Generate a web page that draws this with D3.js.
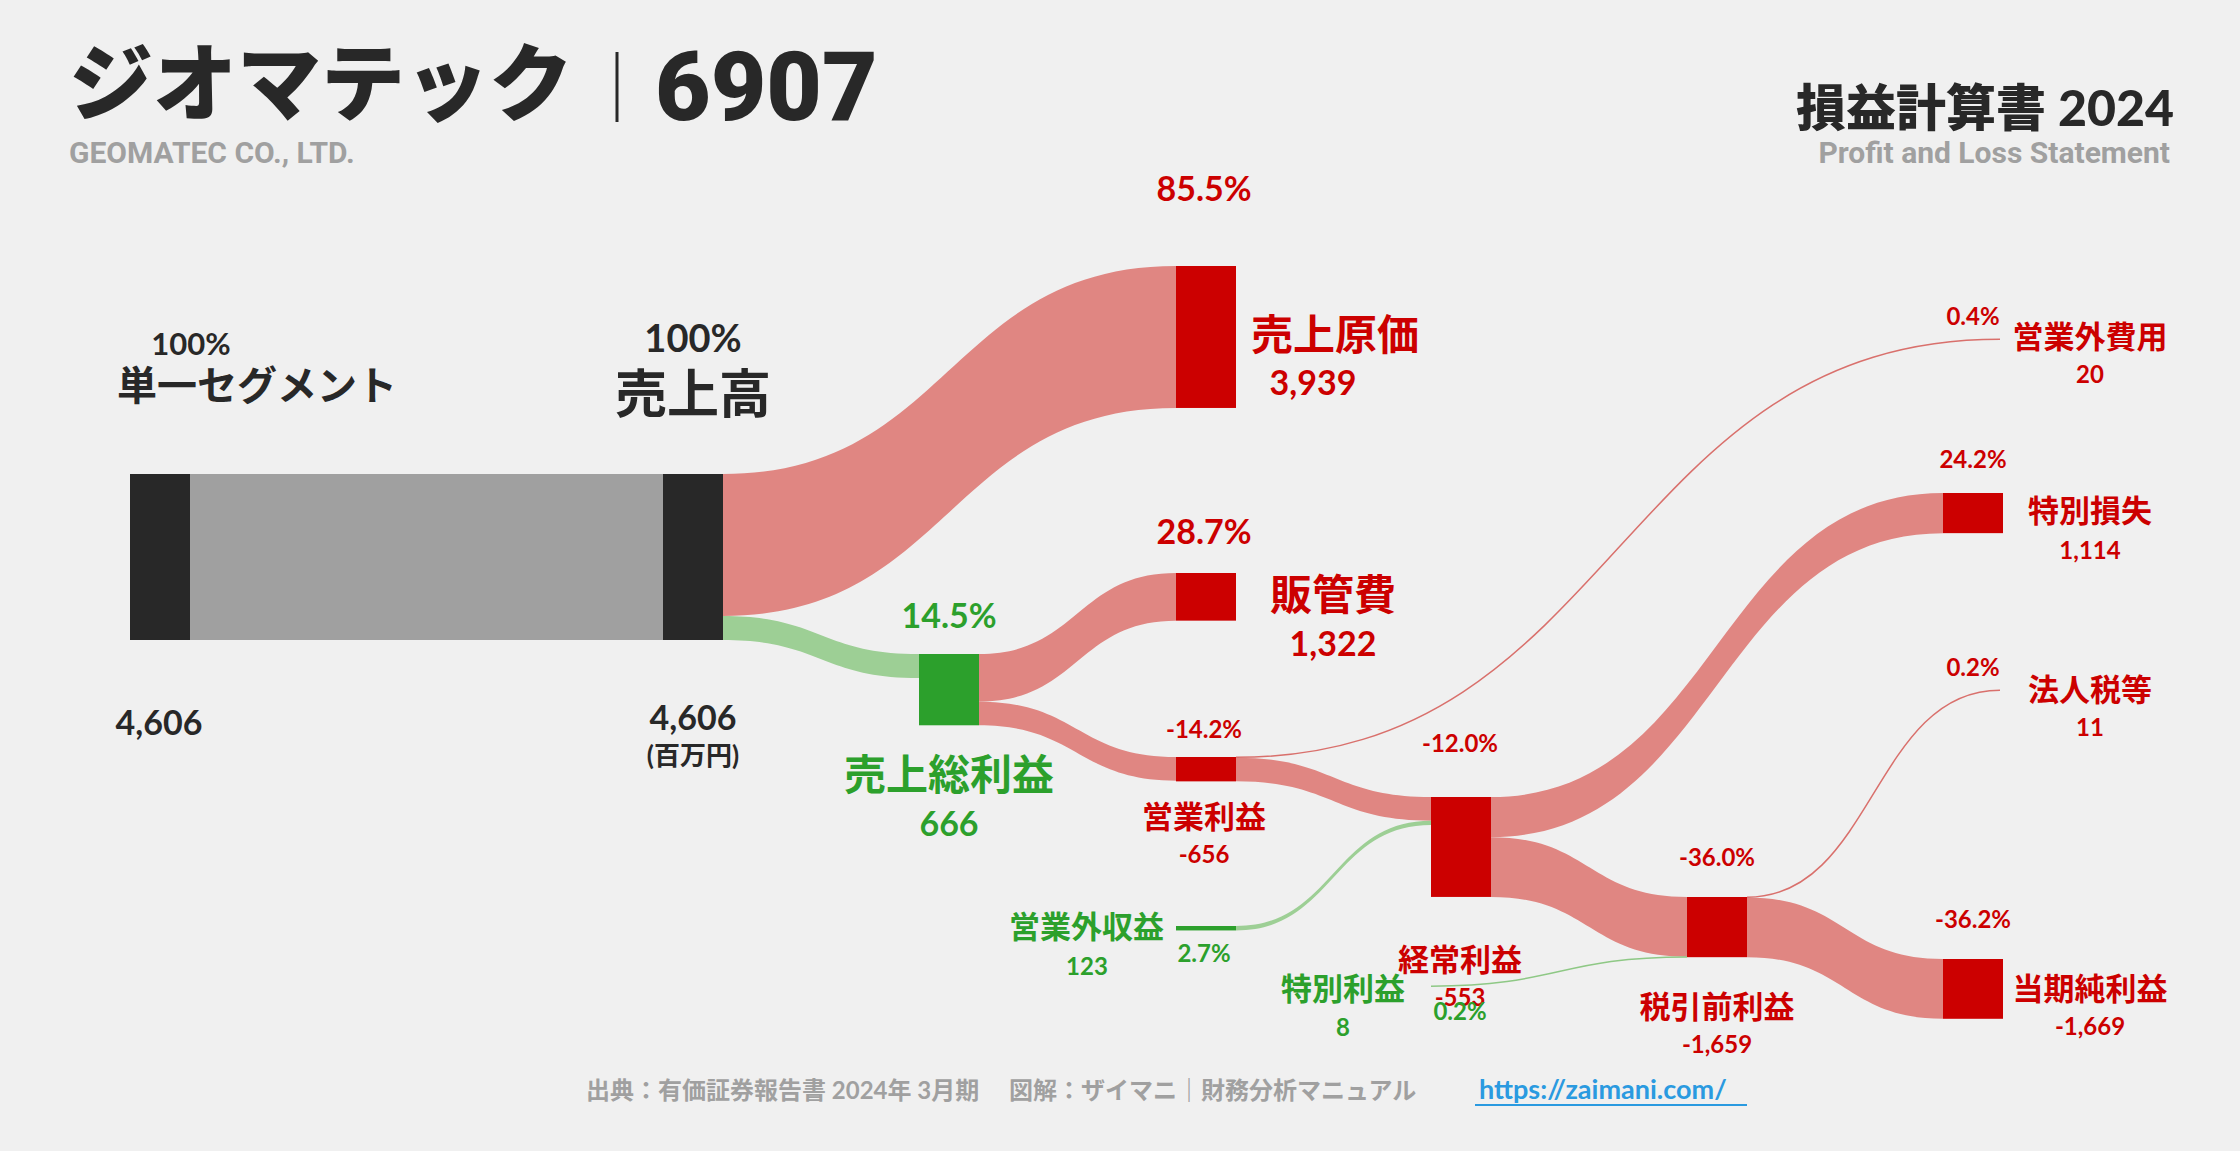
<!DOCTYPE html>
<html><head><meta charset="utf-8">
<script src="https://cdn.jsdelivr.net/npm/d3@7"></script>
<style>
body{margin:0;background:#f0f0f0;}
text{font-family:"Lato","Noto Sans CJK JP",sans-serif;font-weight:700;}
</style></head>
<body><svg id="chart" width="2240" height="1151"></svg>
<script>
// node data
var nodeIds    = ["seg","sales","cost","sga","gross","op","nonopexp","ordinary","nonoprev","specloss","pretax","specgain","tax","net"];
var nodeNames  = ["単一セグメント","売上高","売上原価","販管費","売上総利益","営業利益","営業外費用","経常利益","営業外収益","特別損失","税引前利益","特別利益","法人税等","当期純利益"];
var nodeValues = ["4,606","4,606","3,939","1,322","666","-656","20","-553","123","1,114","-1,659","8","11","-1,669"];
var nodePcts   = ["100%","100%","85.5%","28.7%","14.5%","-14.2%","0.4%","-12.0%","2.7%","24.2%","-36.0%","0.2%","0.2%","-36.2%"];
var nodeKinds  = ["base","base","cost","cost","gain","cost","cost","cost","gain","cost","cost","gain","cost","cost"];

// flows
var linkSources = ["seg","sales","sales","gross","gross","op","op","nonoprev","ordinary","ordinary","specgain","pretax","pretax"];
var linkTargets = ["sales","cost","gross","sga","op","nonopexp","ordinary","ordinary","specloss","pretax","pretax","tax","net"];
var linkValues  = [4606,3939,666,1322,656,20,656,123,1114,1659,8,11,1659];

var totalSales = 4606;

var svg = d3.select("#chart");
var y = d3.scaleLinear().domain([0,totalSales]).range([0,166]);

// layout: left x, top y, width (0 = no box)
var layout = {
  seg:{x:130,y:474,w:60}, sales:{x:663,y:474,w:60},
  cost:{x:1176,y:266,w:60}, sga:{x:1176,y:573,w:60}, gross:{x:919,y:654,w:60},
  op:{x:1176,y:757,w:60}, nonopexp:{x:2000,y:339,w:0},
  ordinary:{x:1431,y:797,w:60}, nonoprev:{x:1176,y:926,w:60},
  specloss:{x:1943,y:493,w:60}, pretax:{x:1687,y:897,w:60},
  specgain:{x:1431,y:986,w:0}, tax:{x:2000,y:690,w:0}, net:{x:1943,y:959,w:60}
};

var colors = {
  base:{node:"#282828",link:"#a0a0a0"},
  cost:{node:"#cc0000",link:"#e08682",thin:"#d9706c"},
  gain:{node:"#2ca02c",link:"#9dcf95",thin:"#8ec885"}
};

var nodes = {};
nodeIds.forEach(function(id,i){
  nodes[id] = {id:id,kind:nodeKinds[i],out:0,inn:0,
    x:layout[id].x,y:layout[id].y,w:layout[id].w};
});

// node heights
linkSources.forEach(function(s,i){ nodes[s].outH=(nodes[s].outH||0)+y(linkValues[i]); nodes[linkTargets[i]].inH=(nodes[linkTargets[i]].inH||0)+y(linkValues[i]); });
nodeIds.forEach(function(id){ var n=nodes[id]; n.h=Math.max(n.outH||0,n.inH||0); });

// links, stacked in order
var links = linkSources.map(function(s,i){
  var src=nodes[s], tgt=nodes[linkTargets[i]], h=y(linkValues[i]);
  var l={y0:src.y+src.out, y1:tgt.y+tgt.inn, h:h, x0:src.x+src.w, x1:tgt.x,
    kind: (s==="seg") ? "base" : nodes[linkTargets[i]].kind};
  if(s==="nonoprev"||s==="specgain") l.kind="gain";
  src.out+=h; tgt.inn+=h;
  return l;
});

function band(l){
  var xm=(l.x0+l.x1)/2;
  return "M"+l.x0+","+l.y0+"C"+xm+","+l.y0+" "+xm+","+l.y1+" "+l.x1+","+l.y1+
    "L"+l.x1+","+(l.y1+l.h)+"C"+xm+","+(l.y1+l.h)+" "+xm+","+(l.y0+l.h)+" "+l.x0+","+(l.y0+l.h)+"Z";
}
function centerLine(l){
  var xm=(l.x0+l.x1)/2, a=l.y0+l.h/2, b=l.y1+l.h/2;
  return "M"+l.x0+","+a+"C"+xm+","+a+" "+xm+","+b+" "+l.x1+","+b;
}

var g = svg.append("g");
g.selectAll("path.band").data(links.filter(function(l){return l.h>=2;})).join("path")
  .attr("class","band").attr("d",band).attr("fill",function(d){return colors[d.kind].link;});
g.selectAll("path.thin").data(links.filter(function(l){return l.h<2;})).join("path")
  .attr("class","thin").attr("d",centerLine).attr("fill","none").attr("stroke-width",1.5)
  .attr("stroke",function(d){return colors[d.kind].thin;});

svg.append("g").selectAll("rect").data(nodeIds.map(function(id){return nodes[id];}).filter(function(n){return n.w>0;}))
  .join("rect")
  .attr("x",function(n){return n.x;}).attr("y",function(n){return n.y;})
  .attr("width",function(n){return n.w;}).attr("height",function(n){return Math.max(n.h,2);})
  .attr("fill",function(n){return colors[n.kind].node;});

// labels
var C={dark:"#282828",red:"#cc0000",green:"#2ca02c",grey:"#a0a0a0"};
function T(x,yy,str,size,fill,anchor){
  return svg.append("text").attr("x",x).attr("y",yy).attr("font-size",size)
    .attr("fill",fill).attr("text-anchor",anchor||"middle").text(str);
}
function idx(id){return nodeIds.indexOf(id);}

T(69,114,"ジオマテック",84,C.dark,"start").style("font-weight",900);
svg.append("line").attr("x1",617).attr("x2",617).attr("y1",52).attr("y2",122).attr("stroke",C.dark).attr("stroke-width",3);
T(655,120,"6907",96,C.dark,"start").style("font-family","Roboto").style("font-weight",900);
T(69,163,"GEOMATEC CO., LTD.",30,C.grey,"start").style("font-family","Roboto");
T(2174,126,"損益計算書 2024",50,C.dark,"end").style("font-weight",900);
T(2170,163,"Profit and Loss Statement",30,C.grey,"end").style("font-family","Roboto");

T(191,355,nodePcts[idx("seg")],31,C.dark);
T(257,400,nodeNames[idx("seg")],40,C.dark);
T(159,735,nodeValues[idx("seg")],34,C.dark);
T(693,352,nodePcts[idx("sales")],38,C.dark);
T(693,413,nodeNames[idx("sales")],52,C.dark);
T(693,730,nodeValues[idx("sales")],34,C.dark);
T(693,765,"(百万円)",26,C.dark);

T(1204,201,nodePcts[idx("cost")],34,C.red);
T(1251,350,nodeNames[idx("cost")],42,C.red,"start");
T(1313,395,nodeValues[idx("cost")],34,C.red);
T(1204,544,nodePcts[idx("sga")],34,C.red);
T(1333,610,nodeNames[idx("sga")],42,C.red);
T(1333,656,nodeValues[idx("sga")],34,C.red);
T(949,628,nodePcts[idx("gross")],34,C.green);
T(949,790,nodeNames[idx("gross")],42,C.green);
T(949,836,nodeValues[idx("gross")],34,C.green);

T(1204,738,nodePcts[idx("op")],24,C.red);
T(1204,828,nodeNames[idx("op")],31,C.red);
T(1204,863,nodeValues[idx("op")],24,C.red);
T(1460,752,nodePcts[idx("ordinary")],24,C.red);
T(1460,971,nodeNames[idx("ordinary")],31,C.red);
T(1460,1006,nodeValues[idx("ordinary")],24,C.red);
T(1164,938,nodeNames[idx("nonoprev")],31,C.green,"end");
T(1087,975,nodeValues[idx("nonoprev")],24,C.green);
T(1204,962,nodePcts[idx("nonoprev")],24,C.green);
T(1343,1000,nodeNames[idx("specgain")],31,C.green);
T(1343,1036,nodeValues[idx("specgain")],24,C.green);
T(1460,1020,nodePcts[idx("specgain")],24,C.green);
T(1717,866,nodePcts[idx("pretax")],24,C.red);
T(1717,1018,nodeNames[idx("pretax")],31,C.red);
T(1717,1053,nodeValues[idx("pretax")],24,C.red);

[["nonopexp",325,348,383],["specloss",468,522,559],["tax",676,701,736],["net",928,1000,1035]].forEach(function(r){
  T(1973,r[1],nodePcts[idx(r[0])],24,C.red);
  T(2090,r[2],nodeNames[idx(r[0])],31,C.red);
  T(2090,r[3],nodeValues[idx(r[0])],24,C.red);
});

T(586,1099,"出典：有価証券報告書 2024年 3月期　 図解：ザイマニ｜財務分析マニュアル",24,C.grey,"start");
T(1479,1099,"https://zaimani.com/",27,"#2a9ae0","start");
svg.append("line").attr("x1",1475).attr("x2",1747).attr("y1",1105).attr("y2",1105).attr("stroke","#2a9ae0").attr("stroke-width",2);
</script></body></html>
